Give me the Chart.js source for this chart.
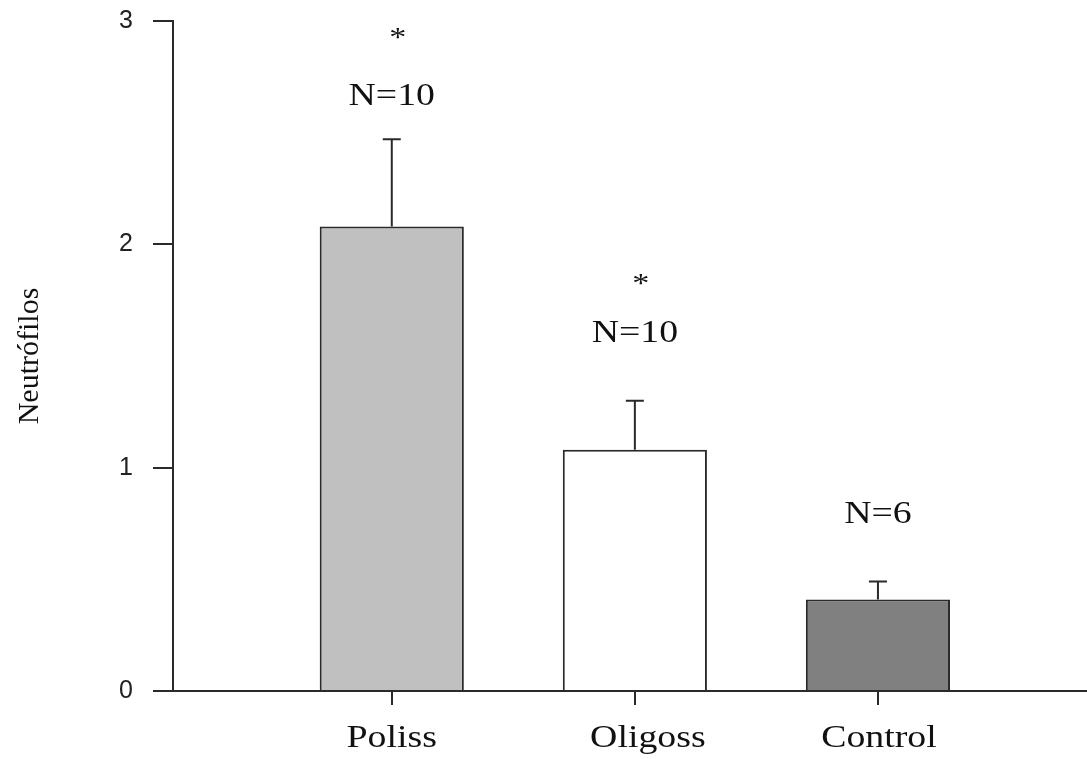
<!DOCTYPE html>
<html>
<head>
<meta charset="utf-8">
<script src="https://cdn.jsdelivr.net/npm/chart.js@4.4.0/dist/chart.umd.min.js"></script>
<style>
  html, body { margin: 0; padding: 0; background: #fff; }
  #wrap { width: 1087px; height: 759px; }
</style>
</head>
<body>
<div id="wrap"><canvas id="neutChart"></canvas></div>
<script>
const categories = ["Poliss", "Oligoss", "Control"];
const means = [2.08, 1.08, 0.41];
const errUp = [0.39, 0.22, 0.08];
const nLabels = ["N=10", "N=10", "N=6"];
const nLabelY = [2.66, 1.60, 0.79];
const sigLabels = ["*", "*", ""];
const sigLabelY = [2.92, 1.82, 0];
const yTicks = [0, 1, 2, 3];

const barColors = ["#c0c0c0", "#ffffff", "#808080"];
const ink = "#2a2a2a";
const serif = "'Liberation Serif', 'Times New Roman', serif";

// error bars, N labels and category names drawn over the chart
const overlay = {
  id: "overlay",
  afterDatasetsDraw(chart) {
    const { ctx, scales: { x, y } } = chart;
    ctx.save();
    ctx.strokeStyle = ink;
    ctx.lineWidth = 2;
    means.forEach((m, i) => {
      const px = x.getPixelForValue(i + 1);
      const top = y.getPixelForValue(m + errUp[i]);
      ctx.beginPath();
      ctx.moveTo(px, y.getPixelForValue(m));
      ctx.lineTo(px, top);
      ctx.moveTo(px - 9, top);
      ctx.lineTo(px + 9, top);
      ctx.stroke();
    });
    ctx.restore();
  },
  afterDraw(chart) {
    const { ctx, scales: { x, y } } = chart;
    const shift = [0, 13, 1];
    const stretched = (txt, cx, cy, size) => {
      ctx.save();
      ctx.translate(cx, cy);
      ctx.scale(1.22, 1);
      ctx.font = size + "px " + serif;
      ctx.fillStyle = "#111";
      ctx.textAlign = "center";
      ctx.textBaseline = "middle";
      ctx.fillText(txt, 0, 0);
      ctx.restore();
    };
    categories.forEach((c, i) => {
      const px = x.getPixelForValue(i + 1);
      stretched(nLabels[i], px, y.getPixelForValue(nLabelY[i]), 31);
      if (sigLabels[i]) stretched(sigLabels[i], px + 6, y.getPixelForValue(sigLabelY[i]), 28);
      stretched(c, px + shift[i], 739, 31);
    });
  }
};

new Chart(document.getElementById("neutChart"), {
  type: "bar",
  data: {
    datasets: [{
      data: means.map((v, i) => ({ x: i + 1, y: v })),
      backgroundColor: barColors,
      borderColor: ink,
      borderWidth: 2,
      barPercentage: 0.593,
      categoryPercentage: 1
    }]
  },
  options: {
    responsive: true,
    maintainAspectRatio: false,
    animation: false,
    layout: { padding: { top: 21, right: 0, left: 0, bottom: 0 } },
    plugins: { legend: { display: false }, tooltip: { enabled: false } },
    scales: {
      x: {
        type: "linear",
        offset: false,
        min: 0.1,
        max: 3.86,
        afterBuildTicks: (s) => { s.ticks = categories.map((c, i) => ({ value: i + 1 })); },
        afterFit: (s) => { s.height = 68; s.paddingLeft = 0; s.paddingRight = 0; },
        ticks: { display: false },
        grid: { offset: false, drawOnChartArea: false, drawTicks: true, tickLength: 14, color: ink, lineWidth: 2 },
        border: { display: true, color: ink, width: 2 }
      },
      y: {
        min: 0,
        max: 3,
        afterBuildTicks: (s) => { s.ticks = yTicks.map(v => ({ value: v })); },
        afterFit: (s) => { s.width = 173; s.paddingTop = 0; s.paddingBottom = 0; },
        ticks: {
          padding: 20,
          color: "#222",
          font: { family: "'Liberation Sans', Arial, sans-serif", size: 25 }
        },
        grid: { drawOnChartArea: false, drawTicks: true, tickLength: 20, color: ink, lineWidth: 2 },
        border: { display: true, color: ink, width: 2 },
        title: {
          display: true,
          text: "Neutrófilos",
          color: "#111",
          font: { family: serif, size: 30 },
          padding: { top: 12, bottom: 0 }
        }
      }
    }
  },
  plugins: [overlay]
});
</script>
</body>
</html>
